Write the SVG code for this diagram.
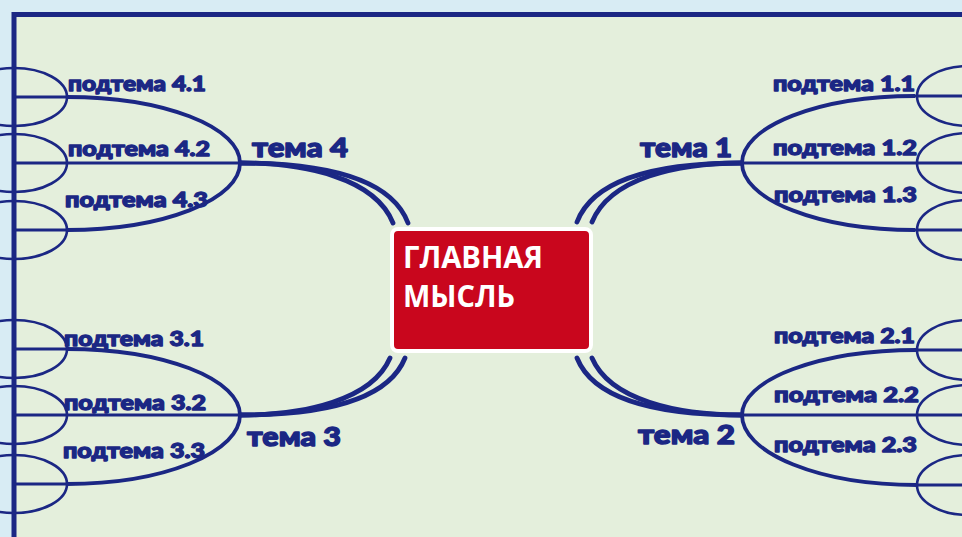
<svg xmlns="http://www.w3.org/2000/svg" width="962" height="537" viewBox="0 0 962 537">
<style>
.sub{font-family:Lato,"Noto Sans",sans-serif;font-weight:900;font-size:21px;fill:#1b2784;stroke:#1b2784;stroke-width:1.3;stroke-linejoin:round}
.tema{font-family:Lato,"Noto Sans",sans-serif;font-weight:900;font-size:26.5px;fill:#1b2784;stroke:#1b2784;stroke-width:1.4;stroke-linejoin:round}
.main{font-family:"Open Sans","Liberation Sans",sans-serif;font-weight:700;font-size:30px;fill:#ffffff}
.big{fill:none;stroke:#1b2784;stroke-width:3.8}
.small{fill:none;stroke:#1b2784;stroke-width:2.6}
.hl{fill:none;stroke:#1b2784;stroke-width:3.2}
.dbl{fill:none;stroke:#1b2784;stroke-width:4.8;stroke-linecap:round}
</style>
<rect x="0" y="0" width="962" height="537" fill="#d8ecf4"/>
<rect x="14" y="14.5" width="960" height="540" fill="#e4efdc" stroke="#1b2784" stroke-width="5"/>

<g id="connectors">
  <!-- tema 4 fan -->
  <path class="big" d="M67,97 A173,66 0 0 1 240,163 A173,67 0 0 1 67,230"/>
  <line class="hl" x1="14" y1="163" x2="240" y2="163"/>
  <line class="hl" x1="14" y1="97" x2="67" y2="97"/>
  <line class="hl" x1="14" y1="230" x2="67" y2="230"/>
  <ellipse class="small" cx="14" cy="97" rx="53" ry="29"/>
  <ellipse class="small" cx="14" cy="163" rx="53" ry="29"/>
  <ellipse class="small" cx="14" cy="230" rx="53" ry="29"/>
  <!-- tema 3 fan -->
  <path class="big" d="M67,349 A173,66 0 0 1 240,415 A173,69 0 0 1 67,484"/>
  <line class="hl" x1="14" y1="415" x2="240" y2="415"/>
  <line class="hl" x1="14" y1="349" x2="67" y2="349"/>
  <line class="hl" x1="14" y1="484" x2="67" y2="484"/>
  <ellipse class="small" cx="14" cy="349" rx="53" ry="29"/>
  <ellipse class="small" cx="14" cy="415" rx="53" ry="29"/>
  <ellipse class="small" cx="14" cy="484" rx="53" ry="29"/>
  <!-- tema 1 fan -->
  <path class="big" d="M915,96 A173,67 0 0 0 742,163 A173,67 0 0 0 915,230"/>
  <line class="hl" x1="742" y1="163" x2="962" y2="163"/>
  <line class="hl" x1="915" y1="96" x2="962" y2="96"/>
  <line class="hl" x1="915" y1="230" x2="962" y2="230"/>
  <ellipse class="small" cx="968" cy="96" rx="51" ry="30"/>
  <ellipse class="small" cx="968" cy="163" rx="51" ry="30"/>
  <ellipse class="small" cx="968" cy="230" rx="51" ry="30"/>
  <!-- tema 2 fan -->
  <path class="big" d="M917,350 A175,65 0 0 0 742,415 A175,70 0 0 0 917,485"/>
  <line class="hl" x1="742" y1="415" x2="962" y2="415"/>
  <line class="hl" x1="917" y1="350" x2="962" y2="350"/>
  <line class="hl" x1="917" y1="485" x2="962" y2="485"/>
  <ellipse class="small" cx="968" cy="350" rx="51" ry="30"/>
  <ellipse class="small" cx="968" cy="415" rx="51" ry="30"/>
  <ellipse class="small" cx="968" cy="485" rx="51" ry="30"/>
  <!-- double links to centre -->
  <path class="dbl" d="M240,163 C305,163 375,178 393,223"/>
  <path class="dbl" d="M240,163 C315,163 390,175 408,223"/>
  <path class="dbl" d="M742,163 C677,163 610,178 592,222"/>
  <path class="dbl" d="M742,163 C667,163 595,175 577,222"/>
  <path class="dbl" d="M240,415 C305,415 372,400 390,358"/>
  <path class="dbl" d="M240,415 C315,415 387,403 405,358"/>
  <path class="dbl" d="M742,415 C677,415 610,400 592,358"/>
  <path class="dbl" d="M742,415 C667,415 595,403 577,358"/>
</g>

<g id="main">
  <rect x="392" y="229" width="199" height="122" rx="6" fill="#c9061d" stroke="#ffffff" stroke-width="4"/>
  <text class="main" x="403" y="268" textLength="140" lengthAdjust="spacingAndGlyphs">ГЛАВНАЯ</text>
  <text class="main" x="403" y="307" textLength="112" lengthAdjust="spacingAndGlyphs">МЫСЛЬ</text>
</g>

<g id="tema4"><text class="tema" x="252" y="157" textLength="96" lengthAdjust="spacingAndGlyphs">тема 4</text></g>
<g id="tema3"><text class="tema" x="247" y="446" textLength="94" lengthAdjust="spacingAndGlyphs">тема 3</text></g>
<g id="tema1"><text class="tema" x="640" y="157" textLength="92" lengthAdjust="spacingAndGlyphs">тема 1</text></g>
<g id="tema2"><text class="tema" x="638" y="444" textLength="97" lengthAdjust="spacingAndGlyphs">тема 2</text></g>

<g id="sub41"><text class="sub" x="68" y="91" textLength="138" lengthAdjust="spacingAndGlyphs">подтема 4.1</text></g>
<g id="sub42"><text class="sub" x="68" y="156" textLength="142" lengthAdjust="spacingAndGlyphs">подтема 4.2</text></g>
<g id="sub43"><text class="sub" x="65" y="207" textLength="143" lengthAdjust="spacingAndGlyphs">подтема 4.3</text></g>
<g id="sub31"><text class="sub" x="64" y="346" textLength="140" lengthAdjust="spacingAndGlyphs">подтема 3.1</text></g>
<g id="sub32"><text class="sub" x="64" y="410" textLength="142" lengthAdjust="spacingAndGlyphs">подтема 3.2</text></g>
<g id="sub33"><text class="sub" x="63" y="458" textLength="142" lengthAdjust="spacingAndGlyphs">подтема 3.3</text></g>
<g id="sub11"><text class="sub" x="773" y="91" textLength="142" lengthAdjust="spacingAndGlyphs">подтема 1.1</text></g>
<g id="sub12"><text class="sub" x="773" y="155" textLength="144" lengthAdjust="spacingAndGlyphs">подтема 1.2</text></g>
<g id="sub13"><text class="sub" x="774" y="202" textLength="143" lengthAdjust="spacingAndGlyphs">подтема 1.3</text></g>
<g id="sub21"><text class="sub" x="774" y="343" textLength="141" lengthAdjust="spacingAndGlyphs">подтема 2.1</text></g>
<g id="sub22"><text class="sub" x="774" y="402" textLength="145" lengthAdjust="spacingAndGlyphs">подтема 2.2</text></g>
<g id="sub23"><text class="sub" x="774" y="452" textLength="143" lengthAdjust="spacingAndGlyphs">подтема 2.3</text></g>
</svg>
